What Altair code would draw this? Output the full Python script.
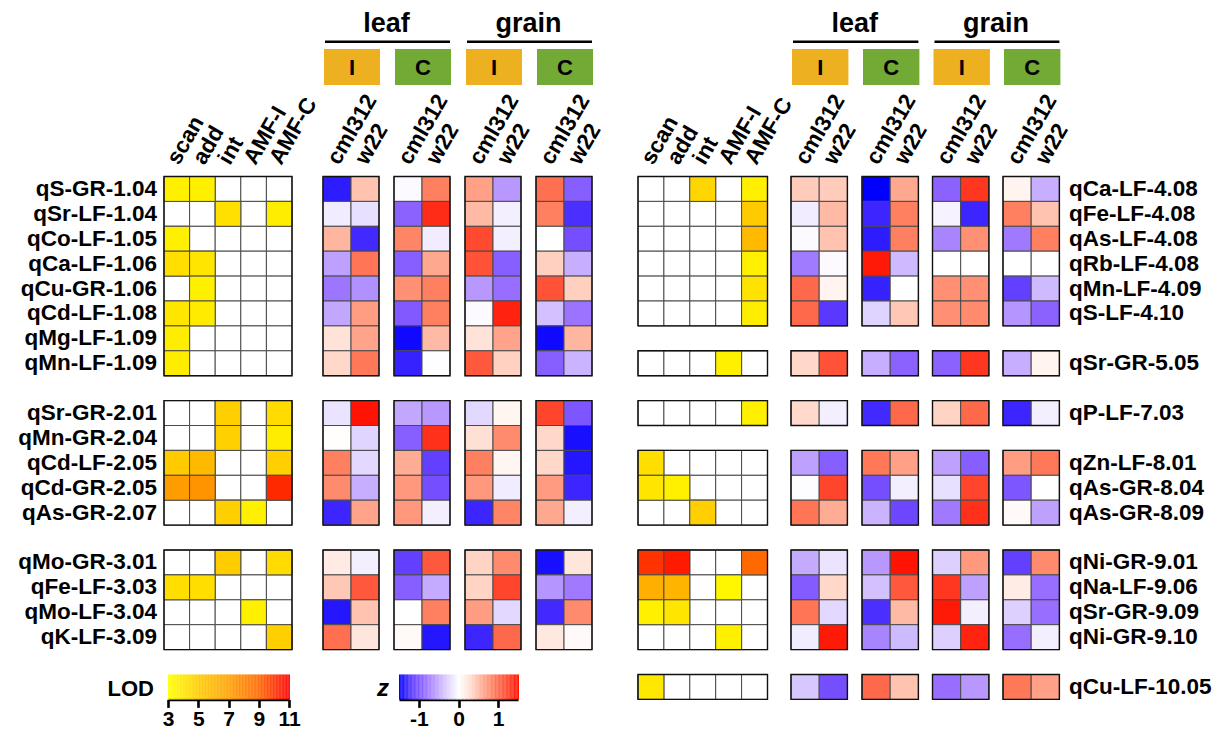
import altair as alt
import pandas as pd
import numpy as np

# ---------------------------------------------------------------- data
LOD_COLS = ["scan", "add", "int", "AMF-I", "AMF-C"]
Z_GROUPS = [("leaf", "I"), ("leaf", "C"), ("grain", "I"), ("grain", "C")]
GENOS = ["cml312", "w22"]
N = None

left_qtl = ["qS-GR-1.04", "qSr-LF-1.04", "qCo-LF-1.05", "qCa-LF-1.06", "qCu-GR-1.06",
            "qCd-LF-1.08", "qMg-LF-1.09", "qMn-LF-1.09", "qSr-GR-2.01", "qMn-GR-2.04",
            "qCd-LF-2.05", "qCd-GR-2.05", "qAs-GR-2.07", "qMo-GR-3.01", "qFe-LF-3.03",
            "qMo-LF-3.04", "qK-LF-3.09"]
left_scan = [3.6, N, 3.6, 4.3, N, 4.0, 3.7, 3.7, N, N, 5.1, 7.1, N, N, 4.3, N, N]
left_add = [3.6, N, N, 4.0, 3.6, 3.8, N, N, N, N, 5.8, 7.4, N, N, 4.3, N, N]
left_int = [N, 4.2, N, N, N, N, N, N, 4.9, 4.8, N, N, 4.9, 5.0, N, N, N]
left_amfi = [N, N, N, N, N, N, N, N, N, N, N, N, 3.6, N, N, 3.6, N]
left_amfc = [N, 3.7, N, N, N, N, N, N, 4.4, 3.7, 4.9, 10.2, N, 4.4, N, N, 4.9]

left_leafI_cml312 = [-1.35, -0.12, 0.52, -0.55, -0.8, -0.52, 0.25, 0.33, -0.18, 0.01, 0.85, 0.78, -1.3, 0.18, 0.42, -1.38, 0.95]
left_leafI_w22 = [0.45, -0.2, -1.28, 0.92, -0.65, 0.67, 0.63, 0.9, 1.48, -0.27, -0.25, -0.48, 0.63, -0.1, 1.1, 0.45, 0.22]
left_leafC_cml312 = [-0.03, -0.92, 0.82, -0.95, 0.75, -0.98, -1.45, -1.32, -0.52, -0.95, 0.58, 0.7, 0.7, -1.15, -0.95, 0.0, 0.05]
left_leafC_w22 = [0.85, 1.35, -0.12, 0.6, 0.85, 0.85, 0.5, -0.01, -0.6, 1.33, -1.15, -1.05, -0.1, 1.1, -0.5, 0.85, -1.38]
left_grainI_cml312 = [0.65, 0.5, 1.2, 1.15, -0.6, -0.03, 0.25, 1.1, -0.25, 0.27, 0.85, 0.7, -1.3, 0.35, 0.35, 0.67, -1.3]
left_grainI_w22 = [-0.6, -0.1, -0.1, -0.95, -0.85, 1.4, 0.63, 0.37, 0.08, 0.78, 0.08, -0.12, 0.82, 0.78, 1.22, -0.25, 1.0]
left_grainC_cml312 = [0.95, 0.85, 0.0, 0.38, 1.15, -0.38, -1.45, -0.95, 1.22, 0.33, 0.33, 0.68, 0.6, -1.42, -0.62, -1.28, 0.2]
left_grainC_w22 = [-0.95, -1.25, -1.05, -0.48, 0.38, -0.82, 0.52, -0.45, -1.0, -1.42, -1.38, -1.3, -0.1, 0.22, -0.78, 0.78, 0.04]

right_qtl = ["qCa-LF-4.08", "qFe-LF-4.08", "qAs-LF-4.08", "qRb-LF-4.08", "qMn-LF-4.09",
             "qS-LF-4.10", "qSr-GR-5.05", "qP-LF-7.03", "qZn-LF-8.01", "qAs-GR-8.04",
             "qAs-GR-8.09", "qNi-GR-9.01", "qNa-LF-9.06", "qSr-GR-9.09", "qNi-GR-9.10",
             "qCu-LF-10.05"]
right_scan = [N, N, N, N, N, N, N, N, 4.3, 4.0, N, 10.0, 6.3, 3.6, N, 3.9]
right_add = [N, N, N, N, N, N, N, N, N, 3.6, N, 10.5, 6.1, 4.0, N, N]
right_int = [4.6, N, N, N, N, N, N, N, N, N, 4.9, N, N, N, N, N]
right_amfi = [N, N, N, N, N, N, 3.6, N, N, N, N, N, 3.3, N, 3.6, N]
right_amfc = [3.6, 5.1, 5.8, 3.6, 4.1, 3.7, N, 3.6, N, N, N, 8.9, N, N, N, N]

right_leafI_cml312 = [0.4, -0.12, -0.03, -0.77, 1.0, 1.0, 0.33, 0.32, -0.55, -0.02, 0.92, -0.5, -0.97, 0.92, -0.12, -0.35]
right_leafI_w22 = [0.4, 0.5, 0.45, -0.03, 0.1, -1.2, 1.15, -0.1, -0.95, 1.22, 0.58, -0.17, 0.33, -0.25, 1.45, -1.05]
right_leafC_cml312 = [-1.5, -1.3, -1.35, 1.45, -1.32, -0.28, -0.48, -1.28, 0.9, -1.05, -0.45, -0.6, -0.38, -1.25, -0.72, 1.0]
right_leafC_w22 = [0.6, 0.85, 0.85, -0.42, 0.0, 0.42, -0.92, 1.0, 0.65, -0.1, -1.1, 1.48, 1.1, 0.5, -0.42, 0.45]
right_grainI_cml312 = [-0.92, -0.08, -0.72, 0.0, 0.75, 0.75, -0.92, 0.35, -0.55, -0.2, -0.78, -0.3, 1.3, 1.45, -0.3, -0.85]
right_grainI_w22 = [1.3, -1.3, 0.75, 0.0, 0.75, 0.78, 1.3, 1.0, -0.95, 1.22, 1.33, 0.7, -0.55, -0.1, 1.4, -0.6]
right_grainC_cml312 = [0.1, 0.85, -0.78, 0.0, -1.15, -0.62, -0.48, -1.3, 0.67, -1.0, 0.04, -1.15, 0.17, -0.3, -0.85, 0.9]
right_grainC_w22 = [-0.48, 0.45, 0.85, 0.0, -0.42, -0.92, 0.1, -0.1, 0.9, 0.0, -0.55, 0.78, -0.85, -0.85, -0.1, 0.65]

LOD_LEGEND_TICKS = [3, 5, 7, 9, 11]
Z_LEGEND_TICKS = [-1, 0, 1]

# ---------------------------------------------------------------- layout (page pixels)
W, H = 1206, 727
PAGE = 8
FONT = "Liberation Sans"
SLOT_Y0, SLOT_H = 176.5, 24.9
LAYOUT = {
    "left": dict(lod_x0=164, lod_w=25.6, z_x0=[323, 394, 465, 536], z_w=28.0,
                 label_x=157, label_align="right"),
    "right": dict(lod_x0=638, lod_w=25.9, z_x0=[791, 862, 932.5, 1003], z_w=28.2,
                  label_x=1069, label_align="left"),
}
HEAD_COLORS = {"I": "#EDB021", "C": "#73A935"}


def px(v):
    return v - PAGE


def sy(slot):
    return px(SLOT_Y0 + slot * SLOT_H)


SIDES = {
    "left": dict(qtl=left_qtl, lod=[left_scan, left_add, left_int, left_amfi, left_amfc],
                 z=[left_leafI_cml312, left_leafI_w22, left_leafC_cml312, left_leafC_w22,
                    left_grainI_cml312, left_grainI_w22, left_grainC_cml312, left_grainC_w22]),
    "right": dict(qtl=right_qtl, lod=[right_scan, right_add, right_int, right_amfi, right_amfc],
                  z=[right_leafI_cml312, right_leafI_w22, right_leafC_cml312, right_leafC_w22,
                     right_grainI_cml312, right_grainI_w22, right_grainC_cml312, right_grainC_w22]),
}

lod_rows, z_rows, frame_rows, label_rows = [], [], [], []
collab_rows, tissue_rows, line_rows, box_rows = [], [], [], []

for side, d in SIDES.items():
    L = LAYOUT[side]
    chroms = [int(q.split("-")[-1].split(".")[0]) for q in d["qtl"]]
    slots, gap = [], 0
    for i, c in enumerate(chroms):
        if i > 0 and c != chroms[i - 1]:
            gap += 1
        slots.append(i + gap)
    for i, q in enumerate(d["qtl"]):
        s = slots[i]
        label_rows.append(dict(side=side, label=q, x=px(L["label_x"]), y=sy(s + 0.5)))
        for j, arr in enumerate(d["lod"]):
            x0 = px(L["lod_x0"] + j * L["lod_w"])
            lod_rows.append(dict(x0=x0, x1=x0 + L["lod_w"], y0=sy(s), y1=sy(s + 1), v=arr[i]))
        for j, arr in enumerate(d["z"]):
            g, k = divmod(j, 2)
            x0 = px(L["z_x0"][g] + k * L["z_w"])
            z_rows.append(dict(x0=x0, x1=x0 + L["z_w"], y0=sy(s), y1=sy(s + 1), v=arr[i]))
    # frames per chromosome block
    for c in sorted(set(chroms)):
        ss = [slots[i] for i in range(len(chroms)) if chroms[i] == c]
        y0, y1 = sy(min(ss)), sy(max(ss) + 1)
        frame_rows.append(dict(x0=px(L["lod_x0"]), x1=px(L["lod_x0"] + 5 * L["lod_w"]), y0=y0, y1=y1))
        for g in range(4):
            frame_rows.append(dict(x0=px(L["z_x0"][g]), x1=px(L["z_x0"][g] + 2 * L["z_w"]), y0=y0, y1=y1))
    # column headers
    for j, name in enumerate(LOD_COLS):
        collab_rows.append(dict(label=name, x=px(L["lod_x0"] + (j + 0.5) * L["lod_w"]) + 2, y=px(166)))
    for g in range(4):
        for k, name in enumerate(GENOS):
            collab_rows.append(dict(label=name, x=px(L["z_x0"][g] + (k + 0.5) * L["z_w"]) + 2, y=px(166)))
        box_rows.append(dict(label=Z_GROUPS[g][1], x0=px(L["z_x0"][g] + 1), x1=px(L["z_x0"][g] + 2 * L["z_w"] + 1),
                             y0=px(49), y1=px(85), xc=px(L["z_x0"][g] + L["z_w"] + 1), yc=px(68)))
    for t, tissue in enumerate(["leaf", "grain"]):
        a = L["z_x0"][2 * t]
        b = L["z_x0"][2 * t + 1] + 2 * L["z_w"]
        tissue_rows.append(dict(label=tissue, x=px((a + b) / 2), y=px(32)))
        line_rows.append(dict(x0=px(a + 2), x1=px(b), y=px(41.7)))

lod_df = pd.DataFrame(lod_rows)
z_df = pd.DataFrame(z_rows)
frame_df = pd.DataFrame(frame_rows)
label_df = pd.DataFrame(label_rows)
collab_df = pd.DataFrame(collab_rows)
tissue_df = pd.DataFrame(tissue_rows)
line_df = pd.DataFrame(line_rows)
box_df = pd.DataFrame(box_rows)

# ---------------------------------------------------------------- scales
XS = alt.Scale(domain=[0, W], nice=False, zero=False)
YS = alt.Scale(domain=[0, H], nice=False, zero=False, reverse=True)
LOD_SCALE = alt.Scale(domain=[3, 5, 7, 9, 11],
                      range=["#FFFF00", "#FFCC00", "#FFA000", "#FF6600", "#FF0000"],
                      interpolate="rgb")
Z_SCALE = alt.Scale(domain=[-1.5, -1.2, -0.9, -0.6, -0.3, 0, 0.3, 0.6, 0.9, 1.2, 1.5],
                    range=["#0000FF", "#5A38FF", "#9065FF", "#B898FF", "#DDD0FF", "#FFFFFF",
                           "#FFDDD0", "#FFA890", "#FF7858", "#FF4A30", "#FF1000"],
                    interpolate="rgb")


def X(f):
    return alt.X(f"{f}:Q", scale=XS, axis=None)


def Y(f):
    return alt.Y(f"{f}:Q", scale=YS, axis=None)


CELL_STROKE = "#4a4a4a"

grid = alt.Chart(lod_df).mark_rect(fill="white", stroke=CELL_STROKE, strokeWidth=1).encode(
    x=X("x0"), x2="x1", y=Y("y0"), y2="y1")
lod_cells = alt.Chart(lod_df.dropna(subset=["v"])).mark_rect(stroke=CELL_STROKE, strokeWidth=1).encode(
    x=X("x0"), x2="x1", y=Y("y0"), y2="y1",
    color=alt.Color("v:Q", scale=LOD_SCALE, legend=None))
z_cells = alt.Chart(z_df).mark_rect(stroke=CELL_STROKE, strokeWidth=1).encode(
    x=X("x0"), x2="x1", y=Y("y0"), y2="y1",
    color=alt.Color("v:Q", scale=Z_SCALE, legend=None))
frames = alt.Chart(frame_df).mark_rect(fillOpacity=0, stroke="#111111", strokeWidth=1.4).encode(
    x=X("x0"), x2="x1", y=Y("y0"), y2="y1")

left_labels = alt.Chart(label_df[label_df.side == "left"]).mark_text(
    align="right", baseline="middle", font=FONT, fontSize=22.5, fontWeight="bold", color="black").encode(
    x=X("x"), y=Y("y"), text="label:N")
right_labels = alt.Chart(label_df[label_df.side == "right"]).mark_text(
    align="left", baseline="middle", font=FONT, fontSize=22.5, fontWeight="bold", color="black").encode(
    x=X("x"), y=Y("y"), text="label:N")
col_labels = alt.Chart(collab_df).mark_text(
    align="left", baseline="alphabetic", angle=300, font=FONT, fontSize=22.5, fontWeight="bold",
    color="black").encode(x=X("x"), y=Y("y"), text="label:N")
tissue_labels = alt.Chart(tissue_df).mark_text(
    align="center", baseline="alphabetic", font=FONT, fontSize=27, fontWeight="bold", color="black").encode(
    x=X("x"), y=Y("y"), text="label:N")
underlines = alt.Chart(line_df).mark_rule(color="black", strokeWidth=2.6).encode(
    x=X("x0"), x2="x1", y=Y("y"))
boxes = alt.Chart(box_df).mark_rect().encode(
    x=X("x0"), x2="x1", y=Y("y0"), y2="y1",
    color=alt.Color("label:N", scale=alt.Scale(domain=list(HEAD_COLORS), range=list(HEAD_COLORS.values())),
                    legend=None))
box_text = alt.Chart(box_df).mark_text(
    align="center", baseline="middle", font=FONT, fontSize=22, fontWeight="bold", color="black").encode(
    x=X("xc"), y=Y("yc"), text="label:N")

# ---------------------------------------------------------------- legends
LEG_Y0, LEG_Y1 = sy(20), sy(21)
AXIS_OFFSET = LEG_Y1 - H

lod_steps = np.arange(3.0, 11.0 + 1e-9, 0.05)
lod_leg_df = pd.DataFrame(dict(a=lod_steps, b=lod_steps + 0.06, v=lod_steps, y0=LEG_Y0, y1=LEG_Y1))
z_steps = np.arange(-1.5, 1.5 + 1e-9, 0.02)
z_leg_df = pd.DataFrame(dict(a=z_steps, b=z_steps + 0.025, v=z_steps, y0=LEG_Y0, y1=LEG_Y1))


def leg_axis(vals):
    return alt.Axis(values=vals, orient="bottom", offset=AXIS_OFFSET, title=None, grid=False,
                    domainColor="black", domainWidth=2.6, tickColor="black", tickWidth=2.6,
                    tickSize=8, labelFont=FONT, labelFontSize=21, labelFontWeight="bold",
                    labelColor="black", labelPadding=1, labelFlush=False, labelOverlap=False,
                    labelExpr="datum.value < 0 ? '-' + format(-datum.value, 'd') : format(datum.value, 'd')")


lod_legend = alt.Chart(lod_leg_df).mark_rect().encode(
    x=alt.X("a:Q", scale=alt.Scale(domain=[3, 11], range=[px(168), px(289)], nice=False, zero=False),
            axis=leg_axis(LOD_LEGEND_TICKS)),
    x2="b", y=Y("y0"), y2="y1",
    color=alt.Color("v:Q", scale=LOD_SCALE, legend=None))
z_legend = alt.Chart(z_leg_df).mark_rect().encode(
    x=alt.X("a:Q", scale=alt.Scale(domain=[-1.5, 1.5], range=[px(399), px(518)], nice=False, zero=False),
            axis=leg_axis(Z_LEGEND_TICKS)),
    x2="b", y=Y("y0"), y2="y1",
    color=alt.Color("v:Q", scale=Z_SCALE, legend=None))

leg_titles_df = pd.DataFrame([
    dict(label="LOD", x=px(154), y=(LEG_Y0 + LEG_Y1) / 2 + 2),
])
lod_title = alt.Chart(leg_titles_df).mark_text(
    align="right", baseline="middle", font=FONT, fontSize=22, fontWeight="bold", color="black").encode(
    x=X("x"), y=Y("y"), text="label:N")
z_title = alt.Chart(pd.DataFrame([dict(label="z", x=px(383), y=(LEG_Y0 + LEG_Y1) / 2 + 2)])).mark_text(
    align="center", baseline="middle", font=FONT, fontSize=24, fontWeight="bold", fontStyle="italic",
    color="black").encode(x=X("x"), y=Y("y"), text="label:N")

chart = alt.layer(
    grid, lod_cells, z_cells, frames,
    left_labels, right_labels, col_labels, tissue_labels, underlines, boxes, box_text,
    lod_legend, z_legend, lod_title, z_title,
).resolve_scale(x="independent", color="independent").properties(
    width=W, height=H, autosize=alt.AutoSizeParams(type="none"), padding=0,
).configure_view(strokeWidth=0)

chart.save("out.html", embed_options={"renderer": "svg", "actions": False})
